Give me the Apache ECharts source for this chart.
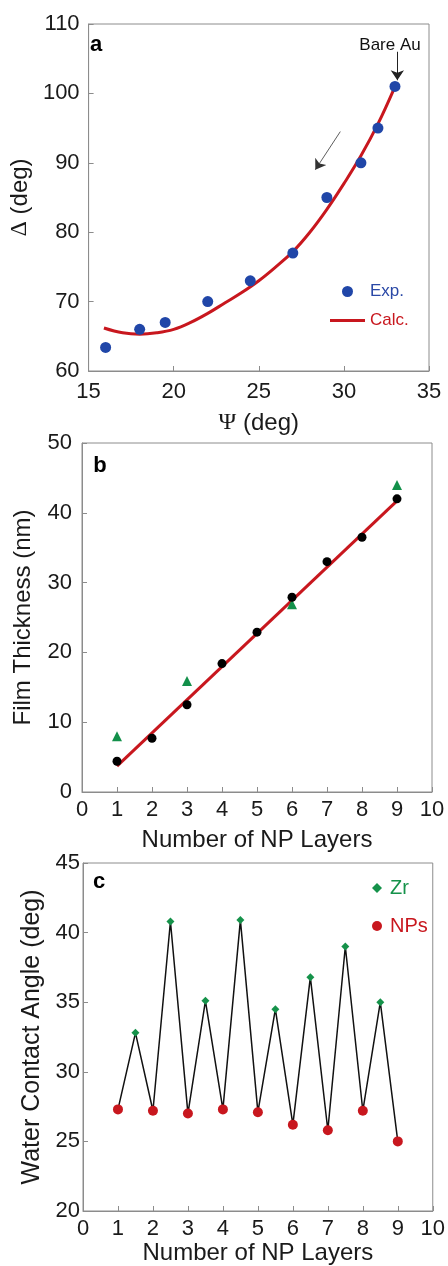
<!DOCTYPE html>
<html>
<head>
<meta charset="utf-8">
<script src="https://cdn.jsdelivr.net/npm/echarts@6/dist/echarts.min.js"></script>
<style>html,body{margin:0;padding:0;background:#fff;}#c{width:448px;height:1266px;}</style>
</head>
<body>
<div id="c"></div>
<script>
// ---- Panel a data ----
const expPsi   = [16.0, 18.0, 19.5, 22.0, 24.5, 27.0, 29.0, 31.0, 32.0, 33.0];
const expDelta = [63.4, 66.0, 67.0, 70.0, 73.0, 77.0, 85.0, 90.0, 95.0, 101.0];
const calcPsi   = [15.9, 17, 18, 19, 20, 21, 22, 23, 24, 25, 26, 27, 28, 29, 30, 31, 32, 32.9];
const calcDelta = [66.2, 65.5, 65.3, 65.5, 66.0, 67.0, 68.3, 69.8, 71.3, 73.0, 75.0, 77.2, 80.0, 83.3, 87.0, 91.0, 95.6, 100.4];
const arrowBare  = [[33.14, 106.0], [33.14, 101.9]];
const arrowTrend = [[29.79, 94.5], [28.32, 89.0]];
// ---- Panel b data ----
const layersB    = [1, 2, 3, 4, 5, 6, 7, 8, 9];
const thickCirc  = [4.4, 7.7, 12.5, 18.4, 22.9, 27.9, 33.0, 36.5, 42.0];
const triLayers  = [1, 3, 6, 9];
const thickTri   = [8.0, 15.9, 26.9, 44.0];
const fitX = [1, 9];
const fitY = [3.7, 41.7];
// ---- Panel c data ----
const npLayers = [1, 2, 3, 4, 5, 6, 7, 8, 9];
const npAngle  = [27.3, 27.2, 27.0, 27.3, 27.1, 26.2, 25.8, 27.2, 25.0];
const zrLayers = [1.5, 2.5, 3.5, 4.5, 5.5, 6.5, 7.5, 8.5];
const zrAngle  = [32.8, 40.8, 35.1, 40.9, 34.5, 36.8, 39.0, 35.0];

const zip = (xs, ys) => xs.map((x, i) => [x, ys[i]]);
const zig = [];
npLayers.forEach((x, i) => {
  zig.push([x, npAngle[i]]);
  if (i < zrLayers.length) zig.push([zrLayers[i], zrAngle[i]]);
});

const FONT = '"Liberation Sans", Arial, sans-serif';
const GRAY = '#8c8c8c';
const TXT = '#1a1a1a';

function xAx(gi, min, max, interval, name, nameGap, labelMargin) {
  return {
    gridIndex: gi, type: 'value', min, max, interval,
    name, nameLocation: 'middle', nameGap,
    nameTextStyle: { fontFamily: FONT, fontSize: 24, color: TXT,
      rich: { g: { fontFamily: '"Liberation Serif", serif', fontSize: 24, color: TXT } } },
    axisLine: { show: true, lineStyle: { color: GRAY, width: 1 } },
    axisTick: { show: true, inside: true, length: 5, lineStyle: { color: GRAY } },
    axisLabel: { fontFamily: FONT, fontSize: 22, color: TXT, margin: labelMargin },
    splitLine: { show: false }
  };
}
function yAx(gi, min, max, interval, name, nameGap, labelMargin, nameSize) {
  return {
    gridIndex: gi, type: 'value', min, max, interval,
    name, nameLocation: 'middle', nameGap, nameRotate: 90,
    nameTextStyle: { fontFamily: FONT, fontSize: nameSize, color: TXT,
      rich: { g: { fontFamily: '"Liberation Serif", serif', fontSize: nameSize, color: TXT } } },
    axisLine: { show: true, lineStyle: { color: GRAY, width: 1 } },
    axisTick: { show: true, inside: true, length: 5, lineStyle: { color: GRAY } },
    axisLabel: { fontFamily: FONT, fontSize: 22, color: TXT, margin: labelMargin },
    splitLine: { show: false }
  };
}

const grid = [
  { left: 81, top: 24, width: 348, height: 347 },
  { left: 82, top: 443, width: 350, height: 349 },
  { left: 83, top: 863, width: 352, height: 351 }
].map(g => Object.assign(g, { show: true, borderColor: GRAY, borderWidth: 1, backgroundColor: 'transparent' }));

const option = {
  animation: false,
  backgroundColor: '#fff',
  grid,
  xAxis: [
    xAx(0, 15, 35, 5, '{g|Ψ} (deg)', 40, 10),
    xAx(1, 0, 10, 1, 'Number of NP Layers', 36, 7),
    xAx(2, 0, 10, 1, 'Number of NP Layers', 30, 7)
  ],
  yAxis: [
    yAx(0, 60, 110, 10, '{g|Δ} (deg)', 38, 9, 24),
    yAx(1, 0, 50, 10, 'Film Thickness (nm)', 47, 10, 24),
    yAx(2, 20, 45, 5, 'Water Contact Angle (deg)', 37, 3, 25)
  ],
  legend: [
    {
      orient: 'vertical', left: 325, top: 278, itemWidth: 35, itemHeight: 11, itemGap: 12,
      symbolKeepAspect: true, selectedMode: false,
      textStyle: { fontFamily: FONT, fontSize: 17 },
      data: [
        { name: 'Exp.', icon: 'circle', textStyle: { color: '#2a48a6' } },
        { name: 'Calc.', icon: 'path://M0,0H35V3H0Z', textStyle: { color: '#c8171e' } }
      ]
    },
    {
      orient: 'vertical', left: 367, top: 873, itemWidth: 10, itemHeight: 10, itemGap: 18,
      selectedMode: false,
      textStyle: { fontFamily: FONT, fontSize: 20, padding: [0, 0, 0, 3] },
      data: [
        { name: 'Zr', icon: 'diamond', textStyle: { color: '#15924a' } },
        { name: 'NPs', icon: 'circle', textStyle: { color: '#c8171e' } }
      ]
    }
  ],
  series: [
    {
      name: 'Calc.', type: 'line', xAxisIndex: 0, yAxisIndex: 0,
      data: zip(calcPsi, calcDelta), smooth: 0.4, showSymbol: false, symbol: 'none',
      lineStyle: { color: '#c8171e', width: 3 }, itemStyle: { color: '#c8171e' }, z: 2
    },
    {
      name: 'Exp.', type: 'scatter', xAxisIndex: 0, yAxisIndex: 0,
      data: zip(expPsi, expDelta), symbolSize: 11,
      itemStyle: { color: '#2046a8', opacity: 1 }, z: 3
    },
    {
      name: 'Arrows', type: 'lines', coordinateSystem: 'cartesian2d', xAxisIndex: 0, yAxisIndex: 0,
      symbol: ['none', 'arrow'], symbolSize: 10, silent: true, z: 4,
      lineStyle: { color: '#222', width: 1, opacity: 1 },
      data: [
        { coords: arrowBare },
        { coords: arrowTrend, lineStyle: { color: '#333', width: 0.8 } }
      ]
    },
    {
      name: 'Fit', type: 'line', xAxisIndex: 1, yAxisIndex: 1,
      data: zip(fitX, fitY), showSymbol: false, symbol: 'none',
      lineStyle: { color: '#c8171e', width: 3 }, z: 2
    },
    {
      name: 'Triangles', type: 'scatter', xAxisIndex: 1, yAxisIndex: 1,
      data: zip(triLayers, thickTri), symbol: 'triangle', symbolSize: 10,
      itemStyle: { color: '#12904a', opacity: 1 }, z: 3
    },
    {
      name: 'Circles', type: 'scatter', xAxisIndex: 1, yAxisIndex: 1,
      data: zip(layersB, thickCirc), symbolSize: 9,
      itemStyle: { color: '#000', opacity: 1 }, z: 4
    },
    {
      name: 'WCA', type: 'line', xAxisIndex: 2, yAxisIndex: 2,
      data: zig, showSymbol: false, symbol: 'none',
      lineStyle: { color: '#111', width: 1.5 }, z: 2
    },
    {
      name: 'Zr', type: 'scatter', xAxisIndex: 2, yAxisIndex: 2,
      data: zip(zrLayers, zrAngle), symbol: 'diamond', symbolSize: 8,
      itemStyle: { color: '#15924a', opacity: 1 }, z: 3
    },
    {
      name: 'NPs', type: 'scatter', xAxisIndex: 2, yAxisIndex: 2,
      data: zip(npLayers, npAngle), symbolSize: 10,
      itemStyle: { color: '#c8171e', opacity: 1 }, z: 3
    }
  ],
  graphic: [
    { type: 'text', x: 96, y: 45, style: { text: 'a', font: 'bold 22px ' + FONT, fill: '#000', align: 'center', verticalAlign: 'middle' } },
    { type: 'text', x: 100, y: 466, style: { text: 'b', font: 'bold 22px ' + FONT, fill: '#000', align: 'center', verticalAlign: 'middle' } },
    { type: 'text', x: 99, y: 882, style: { text: 'c', font: 'bold 22px ' + FONT, fill: '#000', align: 'center', verticalAlign: 'middle' } },
    { type: 'text', x: 390, y: 45, style: { text: 'Bare Au', font: '17px ' + FONT, fill: '#111', align: 'center', verticalAlign: 'middle' } }
  ]
};

const chart = echarts.init(document.getElementById('c'), null, { renderer: 'canvas' });
chart.setOption(option);
</script>
</body>
</html>
